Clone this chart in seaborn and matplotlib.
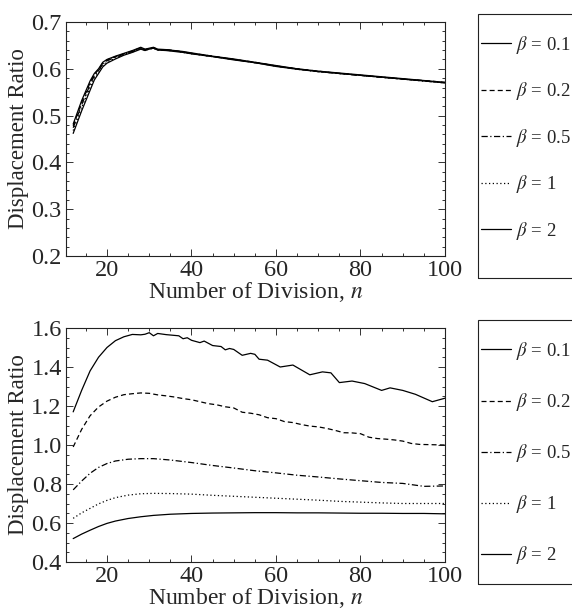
import matplotlib
matplotlib.use("Agg")
import matplotlib.pyplot as plt
import matplotlib.ticker as mticker
from matplotlib.patches import Rectangle
import seaborn as sns

# ---- data ----
betas = ["0.1", "0.2", "0.5", "1", "2"]
styles = ["-", (0, (4, 2.5)), (0, (5, 2, 1, 2)), (0, (1, 2)), "-"]

# upper panel: all five curves nearly coincide
n_top = [12, 14, 16, 17, 18, 19, 20, 22, 24, 26, 28, 29, 30, 31, 32, 34, 36, 38, 40,
         45, 50, 55, 60, 65, 70, 75, 80, 85, 90, 95, 100]
top_b01 = [0.482, 0.532, 0.574, 0.590, 0.600, 0.614, 0.620, 0.627, 0.633, 0.639, 0.646,
           0.642, 0.644, 0.646, 0.642, 0.641, 0.639, 0.637, 0.634, 0.627, 0.621, 0.614,
           0.607, 0.600, 0.595, 0.591, 0.587, 0.583, 0.579, 0.575, 0.571]
top_b02 = [0.478, 0.528, 0.570, 0.588, 0.598, 0.612, 0.619, 0.626, 0.632, 0.638, 0.645,
           0.641, 0.643, 0.645, 0.641, 0.641, 0.639, 0.636, 0.633, 0.627, 0.620, 0.614,
           0.606, 0.600, 0.595, 0.590, 0.586, 0.582, 0.578, 0.575, 0.571]
top_b05 = [0.474, 0.523, 0.566, 0.585, 0.596, 0.610, 0.617, 0.625, 0.631, 0.637, 0.644,
           0.640, 0.643, 0.645, 0.641, 0.640, 0.638, 0.636, 0.633, 0.626, 0.620, 0.613,
           0.606, 0.600, 0.594, 0.590, 0.586, 0.582, 0.578, 0.574, 0.570]
top_b1 = [0.468, 0.517, 0.560, 0.580, 0.592, 0.607, 0.614, 0.623, 0.630, 0.636, 0.643,
          0.640, 0.642, 0.644, 0.640, 0.640, 0.638, 0.635, 0.632, 0.626, 0.620, 0.613,
          0.606, 0.599, 0.594, 0.590, 0.586, 0.582, 0.578, 0.574, 0.570]
top_b2 = [0.462, 0.510, 0.554, 0.576, 0.590, 0.604, 0.612, 0.621, 0.629, 0.635, 0.642,
          0.639, 0.642, 0.644, 0.640, 0.639, 0.637, 0.635, 0.632, 0.626, 0.619, 0.613,
          0.605, 0.599, 0.594, 0.590, 0.586, 0.582, 0.578, 0.574, 0.570]

# lower panel
n_b01 = [12, 14, 16, 18, 20, 22, 24, 26, 28, 29, 30, 31, 32, 34, 36, 37, 38, 39, 40, 42,
         43, 45, 47, 48, 49, 50, 52, 54, 55, 56, 58, 61, 64, 68, 71, 73, 75, 78, 81, 85,
         87, 90, 93, 97, 100]
bot_b01 = [1.170, 1.280, 1.380, 1.450, 1.500, 1.535, 1.555, 1.567, 1.565, 1.568, 1.576,
           1.560, 1.572, 1.566, 1.562, 1.560, 1.545, 1.550, 1.537, 1.525, 1.533, 1.510,
           1.505, 1.488, 1.495, 1.490, 1.460, 1.470, 1.465, 1.440, 1.435, 1.400, 1.410,
           1.360, 1.375, 1.370, 1.320, 1.328, 1.315, 1.280, 1.293, 1.280, 1.260, 1.222,
           1.240]

n_b02 = [12, 14, 16, 18, 20, 22, 24, 26, 28, 30, 32, 34, 36, 38, 40, 42, 44, 46, 48, 50,
         52, 54, 56, 58, 60, 62, 64, 66, 68, 70, 72, 74, 76, 78, 80, 82, 84, 86, 88, 90,
         92, 94, 96, 98, 100]
bot_b02 = [0.990, 1.080, 1.150, 1.195, 1.225, 1.245, 1.258, 1.263, 1.267, 1.265, 1.257,
           1.252, 1.246, 1.238, 1.232, 1.222, 1.212, 1.206, 1.196, 1.190, 1.168, 1.163,
           1.155, 1.140, 1.135, 1.120, 1.115, 1.105, 1.097, 1.093, 1.085, 1.075, 1.063,
           1.062, 1.058, 1.040, 1.033, 1.030, 1.026, 1.020, 1.008, 1.003, 1.002, 1.001,
           1.000]

n_smooth = [12, 14, 16, 18, 20, 22, 25, 28, 31, 35, 40, 45, 50, 55, 60, 65, 70, 75, 80,
            85, 90, 95, 100]
bot_b05 = [0.770, 0.815, 0.855, 0.885, 0.905, 0.918, 0.927, 0.930, 0.930, 0.923, 0.910,
           0.895, 0.882, 0.868, 0.857, 0.845, 0.836, 0.826, 0.817, 0.808, 0.803, 0.788,
           0.790]
bot_b1 = [0.624, 0.652, 0.675, 0.698, 0.716, 0.730, 0.743, 0.750, 0.752, 0.751, 0.748,
          0.742, 0.737, 0.732, 0.727, 0.722, 0.717, 0.711, 0.707, 0.703, 0.700, 0.700,
          0.700]
bot_b2 = [0.520, 0.543, 0.563, 0.582, 0.598, 0.610, 0.623, 0.632, 0.639, 0.645, 0.649,
          0.651, 0.652, 0.653, 0.653, 0.652, 0.652, 0.651, 0.650, 0.650, 0.649, 0.649,
          0.647]

top_series = [(n_top, top_b01), (n_top, top_b02), (n_top, top_b05), (n_top, top_b1), (n_top, top_b2)]
bot_series = [(n_b01, bot_b01), (n_b02, bot_b02), (n_smooth, bot_b05), (n_smooth, bot_b1), (n_smooth, bot_b2)]

sns.set_style("ticks")
plt.rcParams["font.family"] = ["Liberation Serif", "DejaVu Serif"]
plt.rcParams["mathtext.fontset"] = "stix"

W, H = 572, 611
fig = plt.figure(figsize=(W / 100, H / 100), dpi=100)


def fx(px):
    return px / W


def fy(py):
    return 1 - py / H


ax1 = fig.add_axes([fx(66), fy(256), fx(445) - fx(66), (256 - 22) / H])
ax2 = fig.add_axes([fx(66), fy(562), fx(445) - fx(66), (562 - 328) / H])

panels = [(ax1, top_series, (0.2, 0.7), 0.1, 0.02, 14, 1.3),
          (ax2, bot_series, (0.4, 1.6), 0.2, 0.05, 320, 1.55)]

for ax, series, ylim, ymaj, ymin, box_top, spacing in panels:
    for (xs, ys), b, ls in zip(series, betas, styles):
        sns.lineplot(x=xs, y=ys, ax=ax, color="black", lw=0.9, linestyle=ls,
                     label=r"$\beta$ = " + b, errorbar=None)
    ax.set_xlim(10.3, 100)
    ax.set_ylim(*ylim)
    ax.xaxis.set_major_locator(mticker.MultipleLocator(20))
    ax.xaxis.set_minor_locator(mticker.MultipleLocator(5))
    ax.yaxis.set_major_locator(mticker.MultipleLocator(ymaj))
    ax.yaxis.set_minor_locator(mticker.MultipleLocator(ymin))
    ax.yaxis.set_major_formatter(mticker.FormatStrFormatter("%.1f"))
    ax.tick_params(which="both", direction="in", top=True, right=True,
                   labelsize=17.5, width=0.7, color="#333333")
    ax.tick_params(which="major", length=5, pad=3)
    ax.tick_params(which="minor", length=2.5)
    for sp in ax.spines.values():
        sp.set_linewidth(0.8)
        sp.set_color("#222222")
    ax.set_xlabel(r"Number of Division, $n$", fontsize=17, labelpad=-1)
    ax.set_ylabel("Displacement Ratio", fontsize=16.5, labelpad=2)

    # legend outside on the right, frame drawn separately
    ax.legend(loc="upper left", bbox_to_anchor=(fx(481), fy(box_top + 20)),
              bbox_transform=fig.transFigure, frameon=False, fontsize=13.5,
              handlelength=1.6, handletextpad=0.25, labelspacing=spacing,
              borderpad=0, borderaxespad=0)
    fig.patches.append(Rectangle((fx(478), fy(box_top + 264)), fx(110), 264 / H,
                                 transform=fig.transFigure, fill=False,
                                 edgecolor="#222222", lw=0.8))

fig.savefig("out.png", dpi=100)
